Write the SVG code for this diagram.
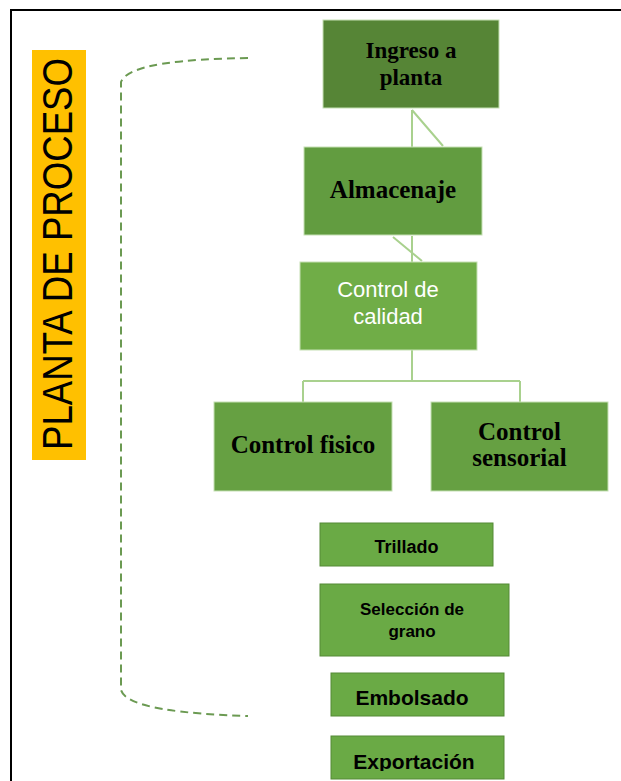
<svg xmlns="http://www.w3.org/2000/svg" width="621" height="781" viewBox="0 0 621 781">
  <defs>
    <style>
      .serif { font-family: "Liberation Serif", "Times New Roman", serif; font-weight: bold; fill: #000; text-anchor: middle; }
      .sans { font-family: "Liberation Sans", Arial, sans-serif; fill: #000; text-anchor: middle; }
      .conn { stroke: #a9d18e; stroke-width: 2; fill: none; }
      .box-top { stroke: #c5e0b4; stroke-width: 1; }
      .box-bot { fill: #6aaa45; stroke: #548a36; stroke-width: 1; }
    </style>
    <clipPath id="clipExp">
      <rect x="331" y="736" width="173" height="35"/>
    </clipPath>
  </defs>
  <rect x="0" y="0" width="621" height="781" fill="#ffffff"/>
  <!-- frame -->
  <path d="M11,781 V10 H621" fill="none" stroke="#000" stroke-width="2"/>

  <!-- side label -->
  <g id="label">
    <rect x="32" y="50" width="54" height="410" fill="#ffc000"/>
    <text class="sans" transform="translate(72,450) rotate(-90)" x="0" y="0" style="text-anchor:start" font-size="42" textLength="392" lengthAdjust="spacingAndGlyphs">PLANTA DE PROCESO</text>
  </g>

  <!-- dashed bracket -->
  <g id="bracket">
    <path d="M248,58 C185,59 128,64 121,82 V690 C126,708 185,714 248,716" fill="none" stroke="#6b9a52" stroke-width="2" stroke-dasharray="8 5"/>
  </g>

  <!-- connectors -->
  <g id="connectors">
    <path class="conn" d="M412,110 V147 M412,110 L443,146"/>
    <path class="conn" d="M412,236 V262 M393,237 L422,261"/>
    <path class="conn" d="M412,350 V381 M303,381 H520 M303,381 V402 M520,381 V402"/>
  </g>

  <g id="ingreso">
    <rect class="box-top" x="323" y="20" width="176" height="88" fill="#568536"/>
    <text class="serif" x="411" y="58" font-size="23">Ingreso a</text>
    <text class="serif" x="411" y="85" font-size="23">planta</text>
  </g>

  <g id="almacenaje">
    <rect class="box-top" x="304" y="147" width="178" height="88" fill="#629c40"/>
    <text class="serif" x="393" y="198" font-size="25">Almacenaje</text>
  </g>

  <g id="control-calidad">
    <rect class="box-top" x="300" y="262" width="177" height="88" fill="#70ad47"/>
    <text class="sans" x="388" y="297" font-size="22" style="fill:#ffffff">Control de</text>
    <text class="sans" x="388" y="324" font-size="22" style="fill:#ffffff">calidad</text>
  </g>

  <g id="control-fisico">
    <rect class="box-top" x="214" y="402" width="178" height="89" fill="#66a042"/>
    <text class="serif" x="303" y="453" font-size="25">Control fisico</text>
  </g>

  <g id="control-sensorial">
    <rect class="box-top" x="431" y="402" width="177" height="89" fill="#66a042"/>
    <text class="serif" x="519.5" y="440" font-size="25">Control</text>
    <text class="serif" x="519.5" y="466" font-size="25">sensorial</text>
  </g>

  <g id="trillado">
    <rect class="box-bot" x="320" y="523" width="173" height="43"/>
    <text class="sans" x="406.5" y="553" font-size="18" font-weight="bold">Trillado</text>
  </g>

  <g id="seleccion">
    <rect class="box-bot" x="320" y="584" width="189" height="72"/>
    <text class="sans" x="412" y="615" font-size="17" font-weight="bold">Selección de</text>
    <text class="sans" x="412" y="637" font-size="17" font-weight="bold">grano</text>
  </g>

  <g id="embolsado">
    <rect class="box-bot" x="331" y="673" width="173" height="43"/>
    <text class="sans" x="412" y="705" font-size="21" font-weight="bold">Embolsado</text>
  </g>

  <g id="exportacion">
    <rect class="box-bot" x="331" y="736" width="173" height="43"/>
    <text class="sans" x="414" y="769" font-size="21" font-weight="bold" clip-path="url(#clipExp)">Exportación</text>
  </g>
</svg>
